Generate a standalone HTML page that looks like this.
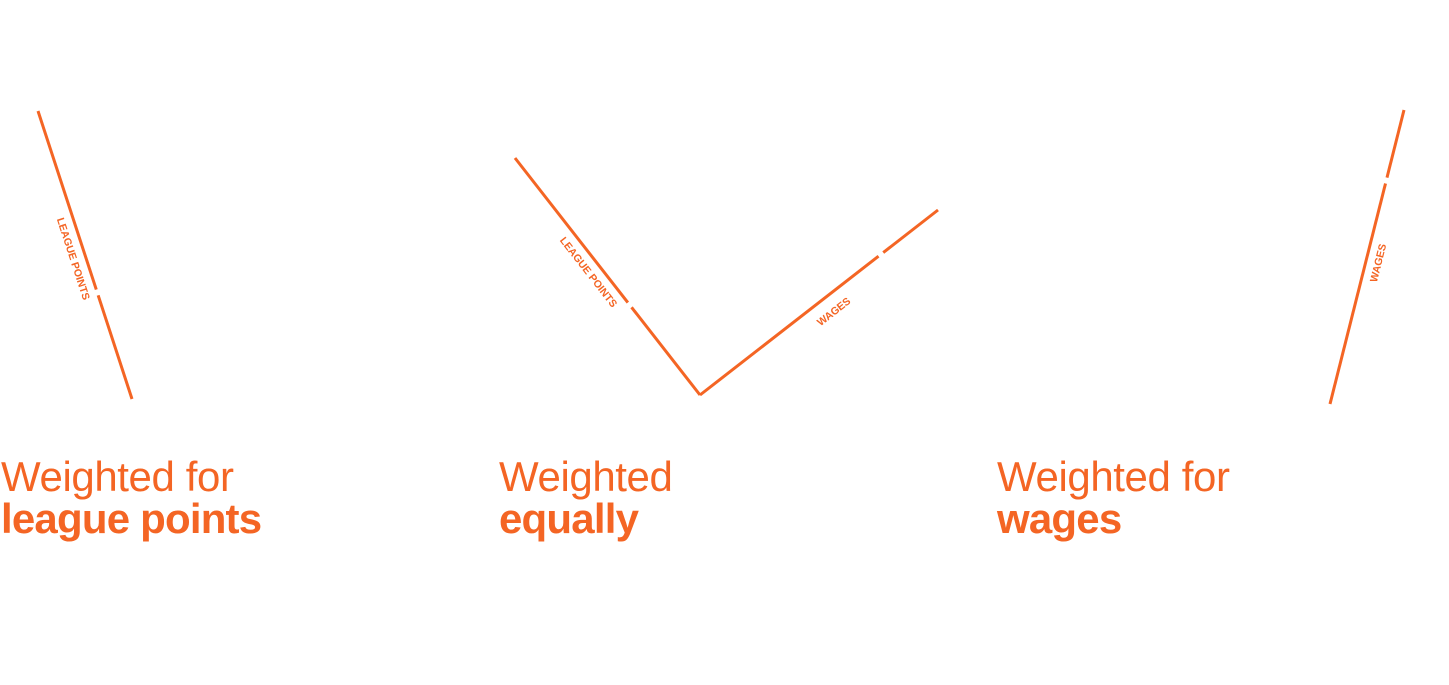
<!DOCTYPE html>
<html><head><meta charset="utf-8">
<style>
html,body{margin:0;padding:0;background:#fff;width:1449px;height:685px;overflow:hidden}
svg{position:absolute;left:0;top:0}
.t{position:absolute;font-family:"Liberation Sans",sans-serif;color:#f46524;font-size:42px;line-height:42px;letter-spacing:-0.4px}
.t b{font-weight:bold;letter-spacing:-0.8px}
</style></head><body>
<svg width="1449" height="685">
<g id="g"></g>
</svg>
<div class="t" style="left:1px;top:456px">Weighted for<br><b>league points</b></div>
<div class="t" style="left:499px;top:456px">Weighted<br><b>equally</b></div>
<div class="t" style="left:997px;top:456px">Weighted for<br><b>wages</b></div>
<script>
const panels = ["league-points","equally","wages"];
const polylines = [
  [[38,111],[132,399]],
  [[515,158],[700,395],[938,210]],
  [[1404,110],[1330,404]]
];
const gaps = [[0.63],[0.62,0.76],[0.24]];
const labels = [["LEAGUE POINTS"],["LEAGUE POINTS","WAGES"],["WAGES"]];
const labelPos = [[0.5],[0.45,0.52],[0.51]];
const labelSide = [[1],[1,1],[-1]];
const labelOff = [[13],[13,17],[13]];
const NS="http://www.w3.org/2000/svg";
const g=document.getElementById('g');
polylines.forEach((pts,pi)=>{
  for(let s=0;s<pts.length-1;s++){
    const [x1,y1]=pts[s],[x2,y2]=pts[s+1];
    const dx=x2-x1,dy=y2-y1,L=Math.hypot(dx,dy);
    const gp=gaps[pi][s], gh=3/L;
    [[0,gp-gh],[gp+gh,1]].forEach(([a,b])=>{
      const l=document.createElementNS(NS,'line');
      
      
      l.setAttribute('x1',x1+dx*a);l.setAttribute('y1',y1+dy*a);
      l.setAttribute('x2',x1+dx*b);l.setAttribute('y2',y1+dy*b);
      l.setAttribute('stroke','#f46524');l.setAttribute('stroke-width','3');
      g.appendChild(l);
    });
    let ang=Math.atan2(dy,dx)*180/Math.PI;
    if(ang>90)ang-=180; if(ang<-90)ang+=180;
    const t=labelPos[pi][s];
    const cx=x1+dx*t,cy=y1+dy*t;
    const nx=-dy/L,ny=dx/L;
    const sgn = labelSide[pi][s];
    const ox=cx+nx*labelOff[pi][s]*sgn, oy=cy+ny*labelOff[pi][s]*sgn;
    const tx=document.createElementNS(NS,'text');
    
    
    tx.setAttribute('x',ox);tx.setAttribute('y',oy);
    tx.setAttribute('text-anchor','middle');tx.setAttribute('dominant-baseline','middle');
    tx.setAttribute('transform','rotate('+ang+' '+ox+' '+oy+')');
    tx.setAttribute('font-family','Liberation Sans, sans-serif');
    tx.setAttribute('font-weight','bold');tx.setAttribute('font-size','10.5');
    tx.setAttribute('fill','#f46524');
    tx.textContent=labels[pi][s];
    g.appendChild(tx);
  }
});
</script>
</body></html>
